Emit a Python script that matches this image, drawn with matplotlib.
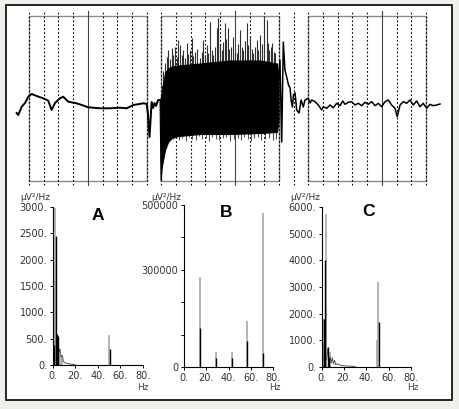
import matplotlib
matplotlib.use("Agg")
import matplotlib.pyplot as plt
from matplotlib.patches import Rectangle

W, H = 459, 409

# ---- raw trace (time in s, amplitude in uV) ----
# slow segment before the contraction
t_pre = [0.016, 0.027, 0.050, 0.073, 0.095, 0.118, 0.152, 0.197, 0.231, 0.254,
         0.277, 0.311, 0.333, 0.367, 0.424, 0.459, 0.503, 0.583, 0.651, 0.719,
         0.765, 0.810, 0.878, 0.901, 0.910, 0.920, 0.927, 0.934, 0.944, 0.954,
         0.964, 0.978, 0.988]
a_pre = [-14.5, -16.5, -8.2, -4.5, 1.8, 4.5, 2.5, 0.2, -2.2, -11.5,
         -4.5, 0.2, 1.8, -3.2, -4.8, -6.5, -8.8, -9.8, -9.8, -9.2,
         -9.8, -6.5, -4.8, -5.5, -16.5, -38.5, -21.5, -3.5, -9.5, -4.5,
         -7.5, -1.5, -1.5]

# dense EMG burst: envelope of the solid black band
band_t = [0.988, 0.995, 1.003, 1.025, 1.046, 1.071, 1.114, 1.263, 1.467, 1.671, 1.787, 1.797]
band_top = [-1.5, 0.0, 5.5, 25.5, 30.0, 32.0, 33.0, 35.0, 38.0, 38.0, 35.0, 18.5]
band_bot = [-1.5, -81.5, -68.5, -51.5, -43.5, -39.5, -37.5, -35.5, -35.5, -34.5, -33.5, -21.5]

# EMG spikes above the band
spike_t = [1.003, 1.014, 1.025, 1.036, 1.046, 1.058, 1.071, 1.082, 1.093, 1.104,
           1.114, 1.127, 1.138, 1.148, 1.161, 1.173, 1.184, 1.195, 1.207, 1.218,
           1.229, 1.246, 1.263, 1.274, 1.284, 1.297, 1.309, 1.320, 1.331, 1.342,
           1.352, 1.365, 1.377, 1.388, 1.400, 1.411, 1.422, 1.433, 1.443, 1.452,
           1.463, 1.474, 1.490, 1.502, 1.513, 1.524, 1.535, 1.547, 1.558, 1.570,
           1.581, 1.592, 1.603, 1.615, 1.626, 1.638, 1.649, 1.660, 1.671, 1.686,
           1.701, 1.717, 1.726, 1.735, 1.745, 1.755, 1.764, 1.773, 1.792]
spike_hi = [13.5, 28, 35.5, 42, 48.5, 40, 50.5, 44, 51.5, 42,
            58.5, 53.5, 44, 48.5, 41, 55.5, 45, 48.5, 60.5, 43,
            46.5, 50, 40.5, 47, 58.5, 44, 53.5, 46, 76.5, 49,
            43.5, 52, 70.5, 80.5, 55, 48.5, 57, 75.5, 60, 70.5,
            50, 51.5, 61.5, 47, 45.5, 55, 68.5, 52, 48.5, 58,
            75.5, 54, 61.5, 50, 45.5, 52, 58.5, 49, 63.5, 55,
            80.5, 78.5, 56, 48.5, 52, 55.5, 47, 45.5, 21.5]

# EMG spikes below the band
dip_t = [1.080, 1.100, 1.121, 1.142, 1.166, 1.190, 1.212, 1.238, 1.258, 1.280,
         1.302, 1.326, 1.347, 1.370, 1.394, 1.417, 1.440, 1.468, 1.496, 1.519,
         1.541, 1.564, 1.587, 1.609, 1.632, 1.655, 1.680, 1.708, 1.731, 1.759, 1.781]
dip_lo = [-40, -38, -41, -39, -42, -38, -40, -41, -37, -40,
          -39, -42, -38, -40, -41, -39, -38, -42, -40, -39,
          -41, -38, -40, -42, -39, -38, -41, -40, -39, -41, -40]

# after the contraction
t_post = [1.797, 1.807, 1.819, 1.830, 1.841, 1.853, 1.865, 1.876, 1.883, 1.892,
          1.899, 1.910, 1.921, 1.937, 1.951, 1.966, 1.977, 2.000, 2.012, 2.023,
          2.046, 2.068, 2.091, 2.102, 2.125, 2.148, 2.170, 2.193, 2.216, 2.234,
          2.250, 2.272, 2.295, 2.318, 2.340, 2.363, 2.386, 2.408, 2.431, 2.454,
          2.476, 2.499, 2.522, 2.544, 2.567, 2.590, 2.605, 2.624, 2.646, 2.669,
          2.692, 2.714, 2.737, 2.760, 2.782, 2.805, 2.828, 2.850, 2.873, 2.896]
a_post = [18.5, 38.5, -43.5, 56.5, 28.5, 21.5, 13.5, 10.5, -1.5, -8.5,
          3.5, 5.5, -11.5, -14.5, -1.5, -8.5, -1.5, 0.2, -4.5, -1.5,
          -3.2, -6.5, -11.5, -8.2, -9.8, -6.5, -9.2, -4.8, -7.2, -2.5,
          -5.8, -3.8, -3.2, -6.5, -4.8, -7.2, -3.8, -5.8, -3.2, -7.2,
          -4.8, -8.2, -3.2, -1.5, -6.5, -9.8, -18.2, -6.5, -3.2, -4.8,
          -1.5, -6.5, -2.5, -8.2, -4.8, -9.8, -5.8, -7.2, -6.5, -5.5]

grid_t = [round(0.1 * k, 1) for k in range(1, 29)]
second_marks = [0.5, 1.5, 2.5]
windows = [(0.1, 0.9), (1.0, 1.8), (2.0, 2.8)]

# ---- spectra (Hz, uV^2/Hz) ----
fa_grey = [0.8, 1.8, 2.5, 4.2, 5.5, 7.0, 8.3, 49.6]
pa_grey = [1600, 2980, 1600, 470, 330, 190, 120, 570]
fa_black = [1.2, 3.3, 4.0, 5.0, 50.4]
pa_black = [380, 2450, 580, 560, 300]
fa_tail = [4.5, 5.5, 6.5, 7.5, 8.5, 9.5, 11, 13, 15, 17, 20]
pa_tail = [420, 250, 300, 150, 180, 70, 40, 30, 20, 15, 10]

fb = [14.3, 28.6, 42.9, 57.0, 71.2]
pb_grey = [278000, 46000, 46000, 142000, 475000]
pb_black = [120000, 28000, 28000, 80000, 43000]

fc_grey = [0.7, 1.5, 3.6, 4.0, 7.5, 49.8, 50.7]
pc_grey = [1000, 1800, 5750, 2200, 560, 1010, 3200]
fc_black = [0.4, 2.2, 3.0, 5.5, 6.5, 51.6]
pc_black = [880, 1800, 4000, 750, 340, 1700]
fc_tail = [4.5, 5.5, 6.5, 7.5, 8.5, 9.5, 10.5, 11.5, 12.5, 14, 17, 21, 25, 30]
pc_tail = [300, 700, 250, 400, 150, 350, 120, 250, 90, 120, 60, 40, 30, 20]


def px_box(x0, y0, x1, y1):
    return [x0 / W, 1 - y1 / H, (x1 - x0) / W, (y1 - y0) / H]


fig = plt.figure(figsize=(W / 100, H / 100), dpi=100)
fig.patch.set_facecolor('#f0f0ea')
fig.add_artist(Rectangle((6 / W, 1 - 400 / H), 446 / W, 395 / H, zorder=-10,
                         transform=fig.transFigure, fc='white', ec='black', lw=1.2))

# ---- top: raw trace ----
ax = fig.add_axes(px_box(14.3, 10, 440.6, 186))
ax.set_xlim(0, 2.9)
ax.set_ylim(-87.5, 88.5)
ax.axis('off')
for t0, t1 in windows:
    ax.add_patch(Rectangle((t0, -82.5), t1 - t0, 165, fill=False, ec='#8a8a8a', lw=1.0))
for t in grid_t:
    if t in second_marks:
        ax.plot([t, t], [-86.5, 87.5], color='#444', lw=0.8)
    else:
        ax.plot([t, t], [-86.5, 87.5], color='black', lw=0.8, ls=(0, (1.5, 2)))

ax.vlines(spike_t, 0, spike_hi, color='#303030', lw=0.8, zorder=3)
ax.vlines(dip_t, 0, dip_lo, color='#505050', lw=0.8, zorder=3)
ax.fill_between(band_t, band_bot, band_top, color='black', lw=0.8, ec='black', zorder=4)
ax.plot(t_pre, a_pre, color='black', lw=1.4, zorder=5)
ax.plot(t_post, a_post, color='black', lw=1.1, zorder=5)

# ---- bottom: spectra ----
def spectrum(box, ymax, yticks, ylabels, grey_f, grey_p, black_f, black_p,
             tail_f=None, tail_p=None):
    s = fig.add_axes(px_box(*box))
    s.set_xlim(0, 80)
    s.set_ylim(0, ymax)
    s.patch.set_alpha(0)
    for side in ['top', 'right']:
        s.spines[side].set_visible(False)
    for side in ['left', 'bottom']:
        s.spines[side].set_linewidth(0.8)
    s.vlines(grey_f, 0, grey_p, color='#a0a0a0', lw=1.1)
    if tail_f is not None:
        s.plot(tail_f, tail_p, color='#555555', lw=0.7)
    s.vlines(black_f, 0, black_p, color='black', lw=1.0)
    s.set_xticks([0, 20, 40, 60, 80])
    s.set_xticklabels(['0.', '20.', '40.', '60.', '80.'])
    s.set_yticks(yticks)
    s.set_yticklabels(ylabels)
    s.tick_params(length=2.5, width=0.7, pad=1.5, labelsize=7, labelcolor='#333333')
    return s


spectrum((52.7, 207, 143, 365), 3000, [0, 500, 1000, 1500, 2000, 2500, 3000],
         ['0.', '500.', '1000.', '1500.', '2000.', '2500.', '3000.'],
         fa_grey, pa_grey, fa_black, pa_black, fa_tail, pa_tail)
spectrum((184, 205, 273, 367), 500000, [0, 100000, 200000, 300000, 400000, 500000],
         ['0', '', '', '300000', '', '500000'],
         fb, pb_grey, fb, pb_black)
spectrum((321.7, 207, 411, 367), 6000, [0, 1000, 2000, 3000, 4000, 5000, 6000],
         ['0.', '1000.', '2000.', '3000.', '4000.', '5000.', '6000.'],
         fc_grey, pc_grey, fc_black, pc_black, fc_tail, pc_tail)

for x, y, s in [(20, 198, 'µV²/Hz'), (151, 197, 'µV²/Hz'), (290, 198, 'µV²/Hz')]:
    fig.text(x / W, 1 - y / H, s, fontsize=6.5, color='#333333', ha='left', va='center')
for x, y, s in [(143, 388, 'Hz'), (275, 388, 'Hz'), (413, 388, 'Hz')]:
    fig.text(x / W, 1 - y / H, s, fontsize=6.5, color='#444444', ha='center', va='center')
for x, y, s in [(98, 216, 'A'), (226, 212.5, 'B'), (368.5, 211, 'C')]:
    fig.text(x / W, 1 - y / H, s, fontsize=12.5, fontweight='bold',
             family='Liberation Sans', ha='center', va='center')

fig.savefig('out.png', dpi=100, facecolor=fig.get_facecolor())
